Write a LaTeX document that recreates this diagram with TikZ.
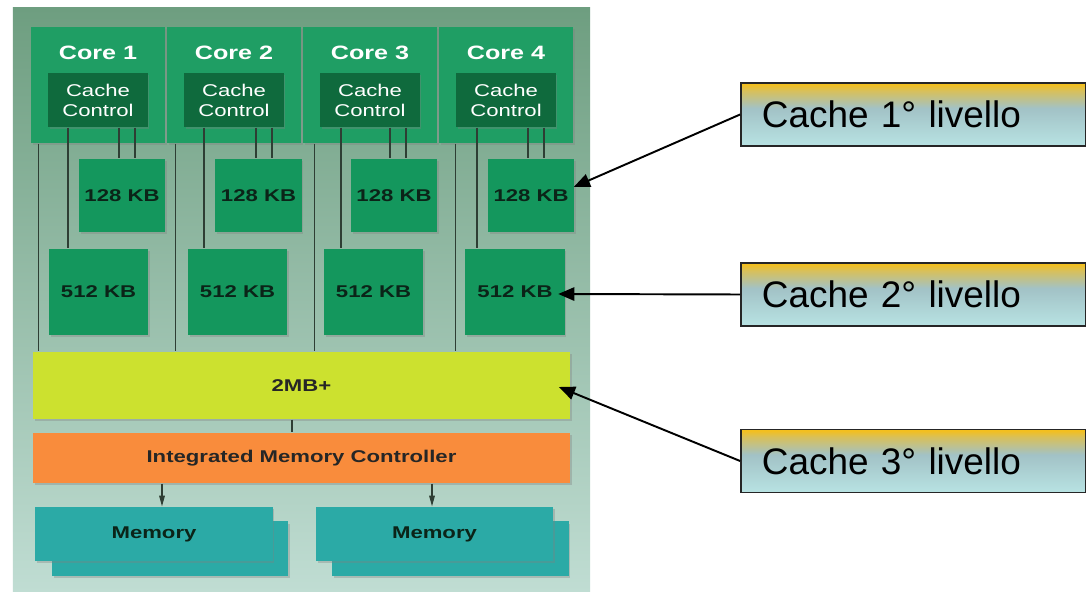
\documentclass[tikz,border=0pt]{standalone}
\usepackage{fontspec}
\usetikzlibrary{shadows,arrows.meta}
\newfontfamily\chipfont[FakeStretch=1.3]{Liberation Sans}
\newfontfamily\lvlfont{Liberation Sans}
\definecolor{bgtop}{HTML}{6E9E80}
\definecolor{bgbot}{HTML}{C0DDD3}
\definecolor{corefill}{HTML}{1F9E64}
\definecolor{ccfill}{HTML}{0F6A3D}
\definecolor{kbfill}{HTML}{14975D}
\definecolor{limefill}{HTML}{CCE12F}
\definecolor{orgfill}{HTML}{F98C3C}
\definecolor{memfill}{HTML}{2BAAA6}
\definecolor{wirecol}{HTML}{2E3E34}
\definecolor{kbtext}{HTML}{0B2418}
\definecolor{lvltop}{HTML}{F3BF1E}
\definecolor{lvlorg}{HTML}{D8C05A}
\definecolor{lvlmid}{HTML}{A2C2C6}
\definecolor{lvlbot}{HTML}{B8E3E3}
\pgfdeclareverticalshading{lvlshade}{100bp}{color(0bp)=(lvlbot); color(25bp)=(lvlbot); color(55bp)=(lvlmid); color(69bp)=(lvlorg); color(74bp)=(lvltop); color(100bp)=(lvltop)}

\begin{document}
\begin{tikzpicture}[x=0.01cm,y=-0.01cm]
    \tikzstyle{chipbox}=[rectangle,inner sep=0pt,drop shadow={opacity=0.35,shadow xshift=0.5pt,shadow yshift=-0.6pt}]
    \tikzstyle{core}=[chipbox,fill=corefill,minimum width=1.34cm,minimum height=1.16cm]
    \tikzstyle{cc}=[chipbox,fill=ccfill,minimum width=0.99cm,minimum height=0.54cm,align=center,text=white,
        font={\chipfont\fontsize{4.84pt}{5.7pt}\selectfont}]
    \tikzstyle{corelbl}=[text=white,font={\chipfont\bfseries\fontsize{5.5pt}{6.4pt}\selectfont}]
    \tikzstyle{kb}=[chipbox,fill=kbfill,text=kbtext,font={\chipfont\bfseries\fontsize{4.84pt}{5.7pt}\selectfont}]
    \tikzstyle{bar}=[chipbox,minimum width=5.37cm,text=black!85,font={\chipfont\bfseries\fontsize{4.84pt}{5.7pt}\selectfont}]
    \tikzstyle{mem}=[chipbox,fill=memfill,minimum width=2.37cm,minimum height=0.54cm,text=kbtext,
        font={\chipfont\bfseries\fontsize{4.84pt}{5.7pt}\selectfont}]
    \tikzstyle{wire}=[draw=wirecol,line width=0.3pt]
    \tikzstyle{memarrow}=[wire,-{Triangle[length=3pt,width=1.6pt]}]
    \tikzstyle{lvlbox}=[draw=black!85,line width=0.45pt,shading=lvlshade,minimum width=3.45cm,minimum height=0.63cm,
        inner xsep=0.21cm,text width=3.03cm,align=left,font={\lvlfont\fontsize{10.5pt}{12pt}\selectfont}]
    \tikzstyle{lvlarrow}=[black,line width=0.55pt,-{Triangle[length=4.6pt,width=3.8pt]}]

    \useasboundingbox (0,0) rectangle (1086,592);
    \fill[white] (0,0) rectangle (1086,592);
    \node[top color=bgtop,bottom color=bgbot,minimum width=5.77cm,minimum height=5.84cm,inner sep=0pt] (chip) at (301.5,300) {};

    % cores
    \node[core] (core1) at (98,85) {};
    \node[core] (core2) at (234,85) {};
    \node[core] (core3) at (370,85) {};
    \node[core] (core4) at (506,85) {};
    \node[corelbl] (c1lbl) at (98,53) {Core 1};
    \node[corelbl] (c2lbl) at (234,53) {Core 2};
    \node[corelbl] (c3lbl) at (370,53) {Core 3};
    \node[corelbl] (c4lbl) at (506,53) {Core 4};
    \node[cc] (cc1) at (98,100) {Cache\\Control};
    \node[cc] (cc2) at (234,100) {Cache\\Control};
    \node[cc] (cc3) at (370,100) {Cache\\Control};
    \node[cc] (cc4) at (506,100) {Cache\\Control};

    % 1st and 2nd level
    \node[kb,minimum width=0.86cm,minimum height=0.73cm] (l1a) at (122,195.5) {128 KB};
    \node[kb,minimum width=0.86cm,minimum height=0.73cm] (l1b) at (258.5,195.5) {128 KB};
    \node[kb,minimum width=0.86cm,minimum height=0.73cm] (l1c) at (394,195.5) {128 KB};
    \node[kb,minimum width=0.86cm,minimum height=0.73cm] (l1d) at (531,195.5) {128 KB};
    \node[kb,minimum width=0.99cm,minimum height=0.86cm] (l2a) at (98.5,292) {512 KB};
    \node[kb,minimum width=0.99cm,minimum height=0.86cm] (l2b) at (237.5,292) {512 KB};
    \node[kb,minimum width=0.99cm,minimum height=0.86cm] (l2c) at (373.5,292) {512 KB};
    \node[kb,minimum width=0.99cm,minimum height=0.86cm] (l2d) at (515,292) {512 KB};

    % shared part
    \node[bar,fill=limefill,minimum height=0.67cm] (l3) at (301.5,385.5) {2MB+};
    \node[bar,fill=orgfill,minimum height=0.50cm] (imc) at (301.5,458) {Integrated Memory Controller};
    \node[mem,minimum width=2.36cm] (mem1b) at (170,548.5) {};
    \node[mem] (mem1) at (154,534) {Memory};
    \node[mem,minimum width=2.36cm] (mem2b) at (450.5,548.5) {};
    \node[mem] (mem2) at (434.5,534) {Memory};

    % wires
    \draw[wire] ([shift={(-30,0)}]cc1.south) -- ([shift={(-30,0)}]cc1.south |- l2a.north);
    \draw[wire] ([shift={(-30,0)}]cc2.south) -- ([shift={(-30,0)}]cc2.south |- l2b.north);
    \draw[wire] ([shift={(-29,0)}]cc3.south) -- ([shift={(-29,0)}]cc3.south |- l2c.north);
    \draw[wire] ([shift={(-29,0)}]cc4.south) -- ([shift={(-29,0)}]cc4.south |- l2d.north);
    \draw[wire] ([shift={(21,0)}]cc1.south) -- ([shift={(21,0)}]cc1.south |- l1a.north);
    \draw[wire] ([shift={(37,0)}]cc1.south) -- ([shift={(37,0)}]cc1.south |- l1a.north);
    \draw[wire] ([shift={(22,0)}]cc2.south) -- ([shift={(22,0)}]cc2.south |- l1b.north);
    \draw[wire] ([shift={(38,0)}]cc2.south) -- ([shift={(38,0)}]cc2.south |- l1b.north);
    \draw[wire] ([shift={(20,0)}]cc3.south) -- ([shift={(20,0)}]cc3.south |- l1c.north);
    \draw[wire] ([shift={(36,0)}]cc3.south) -- ([shift={(36,0)}]cc3.south |- l1c.north);
    \draw[wire] ([shift={(22,0)}]cc4.south) -- ([shift={(22,0)}]cc4.south |- l1d.north);
    \draw[wire] ([shift={(38,0)}]cc4.south) -- ([shift={(38,0)}]cc4.south |- l1d.north);
    \draw[wire] ([shift={(8,0)}]core1.south west) -- ([shift={(8,0)}]core1.south west |- l3.north);
    \draw[wire] ([shift={(9,0)}]core2.south west) -- ([shift={(9,0)}]core2.south west |- l3.north);
    \draw[wire] ([shift={(12,0)}]core3.south west) -- ([shift={(12,0)}]core3.south west |- l3.north);
    \draw[wire] ([shift={(17,0)}]core4.south west) -- ([shift={(17,0)}]core4.south west |- l3.north);
    \draw[wire] ([shift={(-9.5,0)}]l3.south) -- ([shift={(-9.5,0)}]imc.north);
    \draw[memarrow] ([shift={(8,0)}]mem1.north |- imc.south) -- ([shift={(8,0)}]mem1.north);
    \draw[memarrow] ([shift={(-2.5,0)}]mem2.north |- imc.south) -- ([shift={(-2.5,0)}]mem2.north);

    % levels
    \node[lvlbox] (lvl1) at (913.5,114.5) {Cache 1° livello};
    \node[lvlbox] (lvl2) at (913.5,294.5) {Cache 2° livello};
    \node[lvlbox] (lvl3) at (913.5,461) {Cache 3° livello};
    \draw[lvlarrow] (lvl1.west) -- ([shift={(-1,-8.5)}]l1d.east);
    \draw[lvlarrow] (lvl2.west) -- ([shift={(-7,2)}]l2d.east);
    \draw[lvlarrow] (lvl3.west) -- ([shift={(-12,1.5)}]l3.east);
\end{tikzpicture}
\end{document}
